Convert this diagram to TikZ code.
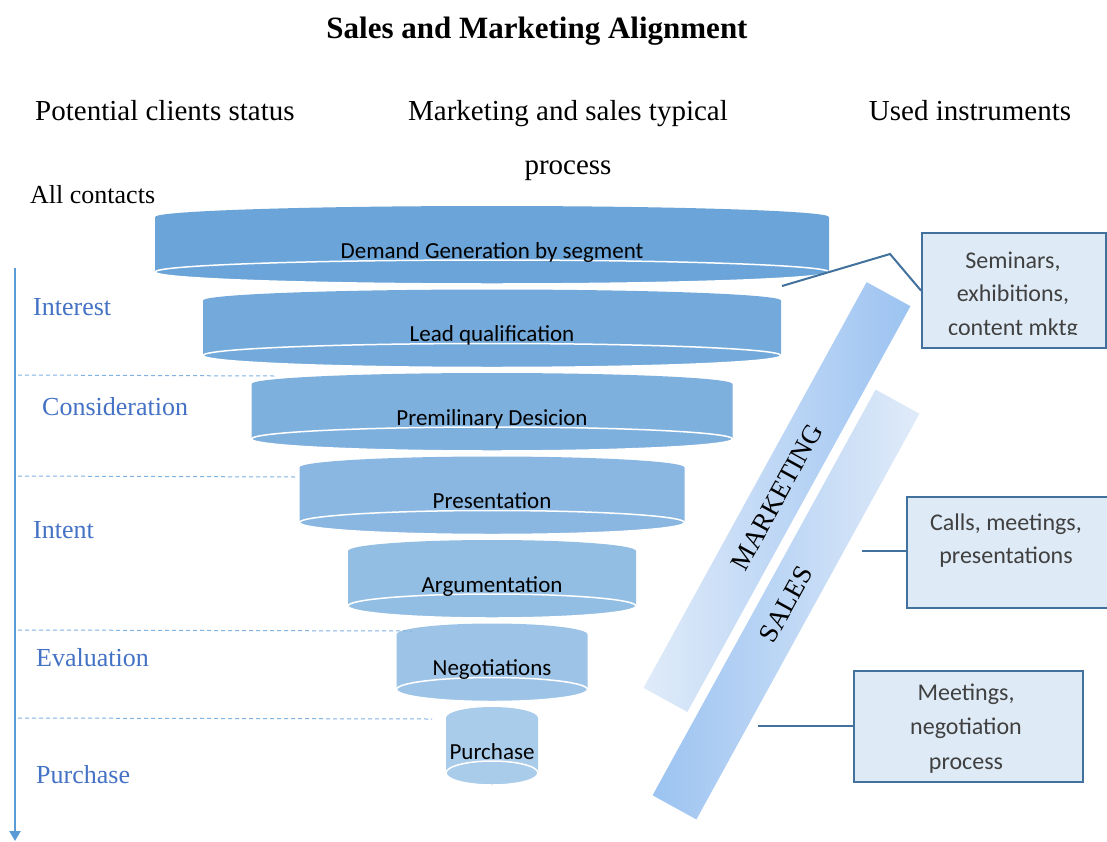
\documentclass[tikz,border=0pt]{standalone}
\usepackage{fontspec}
\setmainfont{Liberation Serif}
\newfontfamily\calibfont{Carlito}
\usetikzlibrary{arrows.meta}

\definecolor{stageA}{HTML}{6BA4D8}
\definecolor{stageB}{HTML}{74AADB}
\definecolor{stageC}{HTML}{7EB0DE}
\definecolor{stageD}{HTML}{89B7E1}
\definecolor{stageE}{HTML}{93BEE4}
\definecolor{stageF}{HTML}{9DC4E7}
\definecolor{stageG}{HTML}{A9CCEB}
\definecolor{barDeep}{HTML}{9CC3F1}
\definecolor{barPale}{HTML}{E0EBF9}
\definecolor{boxFill}{HTML}{DEEAF6}
\definecolor{boxLine}{HTML}{41719C}
\definecolor{boxText}{HTML}{404040}
\definecolor{phaseBlue}{HTML}{4472C4}
\definecolor{flowBlue}{HTML}{5B9BD5}
\definecolor{guideBlue}{HTML}{7FB2E0}

% one funnel stage: name, half width, top y, colour, label
\newcommand\funnelstage[5]{%
  \fill[#4] ({492-#2},#3) arc[start angle=180,end angle=360,x radius=#2,y radius=11]
    -- ({492+#2},{#3+55}) -- ({492-#2},{#3+55}) -- cycle;
  \draw[white,line width=1.5pt,fill=#4] (492,{#3+55}) ellipse [x radius=#2,y radius=12];
  \node[stagetext] (#1) at (492,{#3+41}) {#5};
}

\begin{document}
\begin{tikzpicture}[x=1pt,y=-1pt,
  stagetext/.style={anchor=base,inner sep=0pt,font=\calibfont\fontsize{23}{27}\selectfont},
  headtext/.style={anchor=base,inner sep=0pt,font=\fontsize{29}{34}\selectfont},
  phase/.style={anchor=base west,inner sep=0pt,text=phaseBlue,font=\fontsize{26}{30}\selectfont},
  boxline/.style={anchor=base,inner sep=0pt,text=boxText,font=\calibfont\fontsize{24}{28}\selectfont},
  ibox/.style={draw=boxLine,line width=2.2pt,fill=boxFill,anchor=north west,inner sep=0pt},
  conn/.style={draw=boxLine,line width=2pt},
  guide/.style={draw=guideBlue,line width=1pt,dash pattern=on 4pt off 3pt},
  flow/.style={draw=flowBlue,line width=2pt,-{Triangle[width=11pt,length=10pt]}},
  band/.style={rectangle,minimum width=463pt,minimum height=50pt,inner sep=0pt,rotate=61.2},
  bandtext/.style={inner sep=0pt,rotate=61.2,font=\fontsize{27}{30}\selectfont}]

\clip (0,0) rectangle (1107,841);
\fill[white] (0,0) rectangle (1107,841);

% titles and column headings
\node[anchor=base,inner sep=0pt,font=\bfseries\fontsize{31}{36}\selectfont] (title) at (537,38) {Sales and Marketing Alignment};
\node[headtext,anchor=base west] (hstatus) at (35,120) {Potential clients status};
\node[headtext] (hprocess) at (568,120) {Marketing and sales typical};
\node[headtext] (hprocess2) at (568,174) {process};
\node[headtext] (htools) at (970,120) {Used instruments};
\node[anchor=base west,inner sep=0pt,font=\fontsize{26}{30}\selectfont] (allc) at (30,203) {All contacts};

% funnel
\funnelstage{s1}{337}{217}{stageA}{Demand Generation by segment}
\funnelstage{s2}{289}{300.5}{stageB}{Lead qualification}
\funnelstage{s3}{240.5}{384}{stageC}{Premilinary Desicion}
\funnelstage{s4}{192.5}{467.5}{stageD}{Presentation}
\funnelstage{s5}{144}{551}{stageE}{Argumentation}
\funnelstage{s6}{95.5}{634.5}{stageF}{Negotiations}
\funnelstage{s7}{46}{718}{stageG}{Purchase}

% client status axis
\coordinate (atop) at (15,268);
\coordinate (abot) at (15,841);
\draw[flow] (atop) -- (abot);
\draw[guide] (18,375) -- (275,376);
\draw[guide] (18,476) -- (297,477);
\draw[guide] (18,630) -- (412,631);
\draw[guide] (18,718) -- (432,719);

\node[phase] (p1) at (33,315) {Interest};
\node[phase] (p2) at (42,415) {Consideration};
\node[phase] (p3) at (33,538) {Intent};
\node[phase] (p4) at (36,666) {Evaluation};
\node[phase] (p5) at (36,783) {Purchase};

% marketing and sales bands
\node[band,left color=barPale,right color=barDeep] (mkt) at (777,497) {};
\node[band,left color=barDeep,right color=barPale] (sls) at (786,604.5) {};
\node[bandtext] (mktlabel) at (mkt.center) {MARKETING};
\node[bandtext] (slslabel) at (sls.center) {SALES};

% instrument boxes
\node[ibox,minimum width=184pt,minimum height=115pt] (seminars) at (921,232) {};
\begin{scope}
  \clip (921,232) rectangle (1105,334);
  \node[boxline] (sem1) at (1013,268) {Seminars,};
  \node[boxline] (sem2) at (1013,301) {exhibitions,};
  \node[boxline] (sem3) at (1013,335) {content mktg};
\end{scope}

\node[ibox,minimum width=210pt,minimum height=111pt] (calls) at (906,496) {};
\node[boxline] (cal1) at (1006,530) {Calls, meetings,};
\node[boxline] (cal2) at (1006,563) {presentations};

\node[ibox,minimum width=229pt,minimum height=111pt] (meet) at (853,670) {};
\node[boxline] (met1) at (966,700) {Meetings,};
\node[boxline] (met2) at (966,734) {negotiation};
\node[boxline] (met3) at (966,769) {process};

% connectors
\coordinate (c1a) at (782,286);
\coordinate (c1b) at (890,254);
\coordinate (c2a) at (862,551);
\coordinate (c3a) at (758,726);
\draw[conn] (c1a) -- (c1b) -- (seminars.west);
\draw[conn] (c2a) -- (c2a -| calls.west);
\draw[conn] (c3a) -- (c3a -| meet.west);

\end{tikzpicture}
\end{document}
